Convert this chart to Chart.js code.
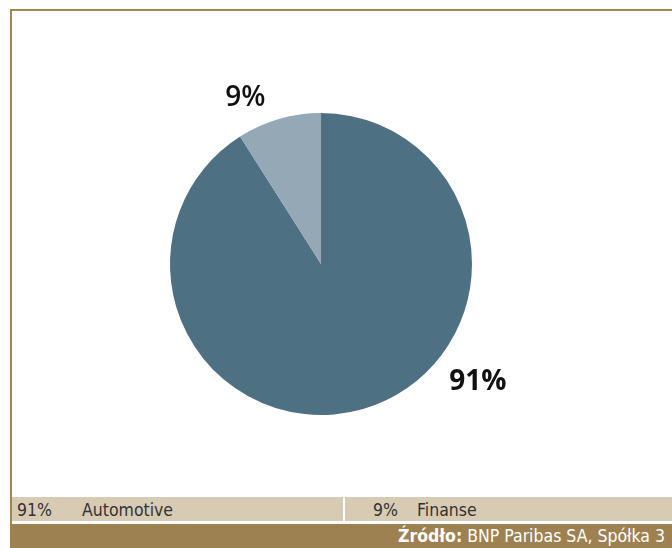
<!DOCTYPE html>
<html>
<head>
<meta charset="utf-8">
<script src="https://cdn.jsdelivr.net/npm/chart.js@4"></script>
<style>
  body { margin: 0; width: 672px; height: 548px; background: #fff; position: relative; overflow: hidden; }
  #frame { position: absolute; left: 10px; top: 9px; width: 700px; height: 600px; border-left: 2px solid #a38552; border-top: 2px solid #a38552; }
  #chartBox { position: absolute; left: 12px; top: 11px; width: 618px; height: 506px; }
  #legend { position: absolute; left: 12px; top: 497px; width: 660px; height: 24px; display: flex; font-family: "DejaVu Sans Condensed", "Liberation Sans Narrow", sans-serif; font-size: 17.5px; color: #333; }
  .item { background: #d8cbb4; height: 24px; line-height: 26px; box-sizing: border-box; white-space: nowrap; }
  .item .pct { display: inline-block; }
  #footer { position: absolute; left: 10px; top: 524px; width: 662px; height: 24px; background: #9e8150; color: #fff; font-family: "DejaVu Sans Condensed", "Liberation Sans Narrow", sans-serif; font-size: 17.5px; line-height: 24px; white-space: nowrap; overflow: hidden; }
  #footer span.txt { position: absolute; left: 388px; }
</style>
</head>
<body>
<div id="frame"></div>
<div id="chartBox"><canvas id="pie"></canvas></div>
<div id="legend"></div>
<div id="footer"><span class="txt"><b>Źródło:</b> BNP Paribas SA, Spółka 3</span></div>
<script>
// dane
const categories = ['Automotive', 'Finanse'];
const shares = [91, 9];
const labelsPct = ['91%', '9%'];
const colors = ['#4e7083', '#95a8b6'];

// legenda
const legend = document.getElementById('legend');
const widths = [331, 329];
const pctW = [65, 44];
categories.forEach((c, i) => {
  const d = document.createElement('div');
  d.className = 'item';
  d.style.width = widths[i] + 'px';
  d.style.paddingLeft = (i == 0 ? 5 : 28) + 'px';
  if (i > 0) d.style.borderLeft = '2px solid #fff';
  d.innerHTML = '<span class="pct" style="width:' + pctW[i] + 'px">' + labelsPct[i] + '</span>' + c;
  legend.appendChild(d);
});

// etykiety procentowe przy wycinkach
const outerLabels = {
  id: 'outerLabels',
  afterDraw(chart, args, opts) {
    const ctx = chart.ctx;
    const meta = chart.getDatasetMeta(0);
    meta.data.forEach((arc, i) => {
      const a = opts.angles[i] * Math.PI / 180 - Math.PI / 2;
      const r = arc.outerRadius * opts.dist[i];
      ctx.save();
      ctx.font = opts.weights[i] + ' 28px "Open Sans", "DejaVu Sans", sans-serif';
      ctx.fillStyle = '#111';
      ctx.textAlign = 'center';
      ctx.textBaseline = 'middle';
      ctx.fillText(labelsPct[i], arc.x + Math.cos(a) * r, arc.y + Math.sin(a) * r);
      ctx.restore();
    });
  }
};

new Chart(document.getElementById('pie'), {
  type: 'pie',
  data: {
    labels: categories,
    datasets: [{ data: shares, backgroundColor: colors, borderWidth: 0 }]
  },
  options: {
    responsive: true,
    maintainAspectRatio: false,
    animation: false,
    layout: { padding: { top: 102, bottom: 102, left: 102, right: 102 } },
    plugins: {
      legend: { display: false },
      tooltip: { enabled: false },
      outerLabels: { angles: [127, -24.5], dist: [1.3, 1.21], weights: ['700', '600'] }
    }
  },
  plugins: [outerLabels]
});
</script>
</body>
</html>
